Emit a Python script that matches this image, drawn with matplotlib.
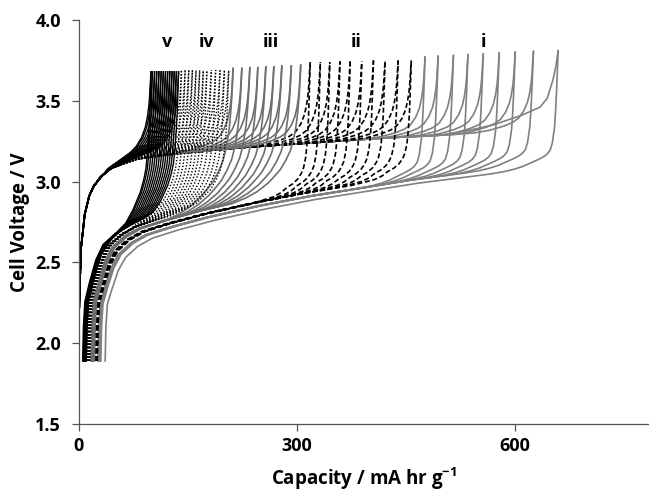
import numpy as np
import matplotlib
matplotlib.use("Agg")
import matplotlib.pyplot as plt

plt.rcParams['font.family'] = ['Open Sans', 'DejaVu Sans']
plt.rcParams['font.weight'] = 'bold'
plt.rcParams['mathtext.fontset'] = 'custom'
plt.rcParams['mathtext.bf'] = 'Open Sans:bold'

# ---- data ----
# end-of-cycle capacities (mA hr g-1) for each group of cycles
cap_i = [476, 494, 515, 535, 556, 578, 600, 625, 659]
cap_ii = [318, 332, 345, 359, 373, 389, 405, 421, 439, 457]
cap_iii = [212, 224, 235, 246, 257, 268, 279, 292, 305]
cap_iv = [141, 146, 151, 156, 161, 166, 171, 176, 182, 188, 194, 200, 206]
cap_v = [99, 101, 104, 107, 110, 113, 116, 119, 122, 125, 128, 131, 134, 137]

# end-of-cycle voltages (V)
vend_i = [3.77, 3.775, 3.78, 3.785, 3.79, 3.795, 3.80, 3.805, 3.81]
vend_ii = [3.74, 3.74, 3.74, 3.745, 3.745, 3.745, 3.75, 3.75, 3.75, 3.75]
vend_iii = [3.70, 3.70, 3.705, 3.705, 3.71, 3.71, 3.715, 3.715, 3.72]
vend_iv = [3.69] * 13
vend_v = [3.68] * 14

# start capacity of the lower branch (at 1.89 V)
start_i = [30, 29, 29, 28, 28, 27, 27, 26, 36]
start_ii = [25, 25, 24, 24, 23, 23, 22, 22, 21, 21]
start_iii = [21, 20, 20, 19, 19, 18, 18, 17, 17]
start_iv = [15, 15, 14, 14, 14, 13, 13, 13, 12, 12, 12, 11, 11]
start_v = [10, 10, 9, 9, 9, 8, 8, 8, 7, 7, 7, 6, 6, 5]

# voltage offset of the lower branch for each group (first cycle of group i sits lowest)
offset_i = [0.02, 0.02, 0.02, 0.02, 0.02, 0.02, 0.02, 0.02, 0.0]
offset_ii, offset_iii, offset_iv, offset_v = 0.04, 0.06, 0.07, 0.08

# lower branch shape (capacity from its start, voltage, weight of the group offset)
low_dq = [0, 1, 3, 9, 18, 28, 45, 65, 100, 150, 220, 290, 360, 430, 500, 570, 640]
low_v = [1.89, 2.10, 2.24, 2.33, 2.45, 2.53, 2.60, 2.65, 2.70, 2.76, 2.83, 2.89,
         2.94, 2.99, 3.03, 3.07, 3.11]
low_w = [0, 0, 0.2, 0.5, 0.8, 1, 1, 1, 1, 1, 1, 1, 1, 1, 1, 1, 1]

# upper branch shape (capacity, voltage)
up_q = [0, 1, 3, 8, 14, 20, 30, 43, 60, 80, 110, 150, 220, 320, 420, 510, 600, 660]
up_v = [2.17, 2.35, 2.60, 2.80, 2.91, 2.97, 3.03, 3.08, 3.11, 3.14, 3.16, 3.18,
        3.21, 3.24, 3.27, 3.29, 3.32, 3.34]

# end-of-cycle rise (capacity before the end, share of the rise)
knee_dq_i = [-95, -75, -60, -48, -38, -28, -20, -15, -11, -8, -5, -3.5, -2, -1, 0]
knee_fr_i = [0, 0.005, 0.015, 0.03, 0.05, 0.07, 0.09, 0.11, 0.14, 0.2, 0.33, 0.47, 0.67, 0.83, 1]
knee_dq_ii = [-85, -65, -50, -40, -32, -24, -17, -12, -9, -6, -4, -2.5, -1.5, -0.7, 0]
knee_fr_ii = [0, 0.01, 0.02, 0.04, 0.07, 0.09, 0.12, 0.16, 0.2, 0.28, 0.4, 0.55, 0.72, 0.86, 1]
knee_dq_iii = [-95, -75, -60, -45, -35, -28, -20, -14, -10, -7, -5, -3, -2, -1, 0]
knee_fr_iii = [0, 0.02, 0.05, 0.1, 0.15, 0.19, 0.26, 0.33, 0.41, 0.5, 0.58, 0.7, 0.78, 0.88, 1]
knee_dq_iv = [-80, -62, -45, -35, -25, -18, -12, -8, -6, -4, -3, -2, -1, 0]
knee_fr_iv = [0, 0.02, 0.04, 0.08, 0.12, 0.18, 0.25, 0.33, 0.4, 0.5, 0.6, 0.72, 0.85, 1]
knee_dq_v = [-70, -55, -45, -35, -25, -15, -10, -7, -5, -3, -2, -1, 0]
knee_fr_v = [0, 0.01, 0.02, 0.04, 0.1, 0.2, 0.28, 0.35, 0.45, 0.6, 0.7, 0.85, 1]
upknee_dq = [-80, -60, -40, -28, -20, -13, -8, -5, -3, -2, -1, 0]
upknee_fr = [0, 0.02, 0.06, 0.1, 0.15, 0.24, 0.35, 0.47, 0.6, 0.7, 0.85, 1]
# first cycle: slower rise of the upper branch
upknee1_dq = [-160, -120, -90, -70, -50, -25, -15, -7, -3, -1, 0]
upknee1_fr = [0, 0.04, 0.08, 0.13, 0.18, 0.27, 0.38, 0.62, 0.8, 0.93, 1]

labels = ['v', 'iv', 'iii', 'ii', 'i']
label_cap = [121, 175, 264, 381, 556]
label_v = 3.865

grey = '#808080'
groups = [
    (cap_i, vend_i, start_i, offset_i, knee_dq_i, knee_fr_i, dict(color=grey, lw=1.2, ls='-')),
    (cap_ii, vend_ii, start_ii, offset_ii, knee_dq_ii, knee_fr_ii, dict(color='black', lw=1.2, ls=(0, (3, 1.6)))),
    (cap_iii, vend_iii, start_iii, offset_iii, knee_dq_iii, knee_fr_iii, dict(color='#6e6e6e', lw=1.2, ls='-')),
    (cap_iv, vend_iv, start_iv, offset_iv, knee_dq_iv, knee_fr_iv, dict(color='black', lw=1.0, ls=(0, (1, 1.3)))),
    (cap_v, vend_v, start_v, offset_v, knee_dq_v, knee_fr_v, dict(color='black', lw=1.0, ls='-')),
]

fig = plt.figure(figsize=(6.49, 4.94), dpi=100)
ax = fig.add_axes([79 / 649, 70 / 494, 570 / 649, 404 / 494])

low_dq_a = np.array(low_dq, float)
low_v_a = np.array(low_v, float)
low_w_a = np.array(low_w, float)
up_q_a = np.array(up_q, float)
up_v_a = np.array(up_v, float)

for caps, vends, starts, offs, kdq, kfr, style in groups:
    kdq = np.array(kdq, float)
    kfr = np.array(kfr, float)
    if np.isscalar(offs):
        offs = [offs] * len(caps)
    for Q, ve, q0, off in zip(caps, vends, starts, offs):
        # lower branch
        lq = q0 + low_dq_a
        lv = low_v_a + off * low_w_a
        keep = lq < Q + kdq[0]
        kq = Q + kdq
        kenv = np.interp(kq - q0, low_dq_a, low_v_a) + off
        kv = kenv + kfr * (ve - kenv)
        ax.plot(np.concatenate([lq[keep], kq]), np.concatenate([lv[keep], kv]),
                solid_joinstyle='round', **style)
        # upper branch
        if Q == max(cap_i):
            ud = np.array(upknee1_dq, float)
            uf = np.array(upknee1_fr, float)
        else:
            ud = np.array(upknee_dq, float)
            uf = np.array(upknee_fr, float)
        keep_u = up_q_a < Q + ud[0]
        uq = Q + ud
        uenv = np.interp(uq, up_q_a, up_v_a)
        uv = uenv + uf * (ve - uenv)
        ax.plot(np.concatenate([up_q_a[keep_u], uq]), np.concatenate([up_v_a[keep_u], uv]),
                solid_joinstyle='round', **style)

for lab, c in zip(labels, label_cap):
    ax.text(c, label_v, lab, ha='center', va='center', fontsize=13, fontweight='bold')

ax.set_xlim(0, 784)
ax.set_ylim(1.5, 4.0)
ax.set_xticks([0, 300, 600])
ax.set_yticks([1.5, 2.0, 2.5, 3.0, 3.5, 4.0])
ax.set_yticklabels(['1.5', '2.0', '2.5', '3.0', '3.5', '4.0'])
for s in ['top', 'right']:
    ax.spines[s].set_visible(False)
for s in ['left', 'bottom']:
    ax.spines[s].set_color('#555555')
    ax.spines[s].set_linewidth(0.9)
ax.tick_params(axis='both', direction='out', length=5, width=0.9, color='#555555',
               labelsize=13)
ax.tick_params(axis='x', pad=4)
ax.tick_params(axis='y', pad=8)
for t in ax.get_xticklabels() + ax.get_yticklabels():
    t.set_fontweight('bold')

ax.set_xlabel('Capacity / mA hr g$^{\\mathbf{-1}}$', fontsize=13.5, fontweight='bold', labelpad=8)
ax.set_ylabel('Cell Voltage / V', fontsize=13.5, fontweight='bold', labelpad=4)

fig.savefig('out.png', dpi=100)
